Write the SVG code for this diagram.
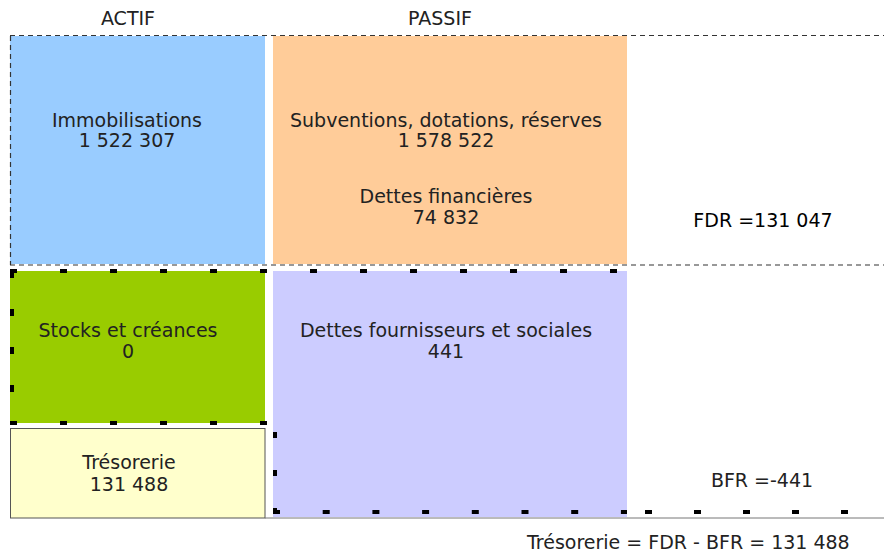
<svg xmlns="http://www.w3.org/2000/svg" width="884" height="553" viewBox="0 0 884 553">
<style>
text{font-family:"DejaVu Sans","Verdana",sans-serif;font-size:19px;fill:#222;text-anchor:middle}
.thin{stroke:#333;stroke-width:1.2;stroke-dasharray:5 4;fill:none}
.thick{stroke:#000;stroke-width:4;fill:none}
</style>
<rect width="884" height="553" fill="#fff"/>
<g id="headers">
<text x="128" y="25">ACTIF</text>
<text x="440" y="25">PASSIF</text>
</g>
<g id="immobilisations">
<rect x="10" y="36" width="255" height="228" fill="#99ccff"/>
<text x="127" y="126.5">Immobilisations</text>
<text x="127" y="146.5">1 522 307</text>
</g>
<g id="capitaux">
<rect x="273" y="36" width="354" height="228" fill="#ffcc99"/>
<text x="446" y="126.5">Subventions, dotations, réserves</text>
<text x="446" y="146.5">1 578 522</text>
<text x="446" y="203">Dettes financières</text>
<text x="446" y="224">74 832</text>
</g>
<g id="stocks">
<rect x="10" y="271" width="255" height="152" fill="#99cc00"/>
<text x="128" y="337">Stocks et créances</text>
<text x="128" y="358">0</text>
</g>
<g id="dettes">
<rect x="273" y="271" width="354" height="246" fill="#ccccff"/>
<text x="446" y="337">Dettes fournisseurs et sociales</text>
<text x="446" y="358">441</text>
</g>
<g id="tresorerie">
<rect x="10.5" y="428.5" width="254.5" height="89.5" fill="#ffffcc" stroke="#555" stroke-width="1"/>
<text x="129" y="469">Trésorerie</text>
<text x="129" y="490.5">131 488</text>
</g>
<g id="fdr">
<text x="763" y="227" style="fill:#000">FDR =131 047</text>
</g>
<g id="bfr">
<text x="762" y="487">BFR =-441</text>
</g>
<g id="formula">
<text x="527" y="549" style="text-anchor:start">Trésorerie = FDR - BFR = 131 488</text>
</g>
<g id="connectors">
<line x1="265" y1="518" x2="884" y2="518" stroke="#777" stroke-width="1"/>
<line class="thin" x1="10" y1="35.5" x2="884" y2="35.5"/>
<line class="thin" x1="10.5" y1="36" x2="10.5" y2="265"/>
<line class="thin" x1="10" y1="265" x2="884" y2="265"/>
<line class="thick" x1="10" y1="271" x2="627" y2="271" stroke-dasharray="7 43"/>
<line class="thick" x1="12" y1="271" x2="12" y2="425" stroke-dasharray="7 31"/>
<line class="thick" x1="10" y1="423" x2="267" y2="423" stroke-dasharray="7 43"/>
<line class="thick" x1="275" y1="432" x2="275" y2="514" stroke-dasharray="6 32"/>
<line class="thick" x1="273" y1="512" x2="627" y2="512" stroke-dasharray="7 42.7"/>
<line class="thick" x1="645" y1="512" x2="860" y2="512" stroke-dasharray="7 42"/>
</g>
</svg>
